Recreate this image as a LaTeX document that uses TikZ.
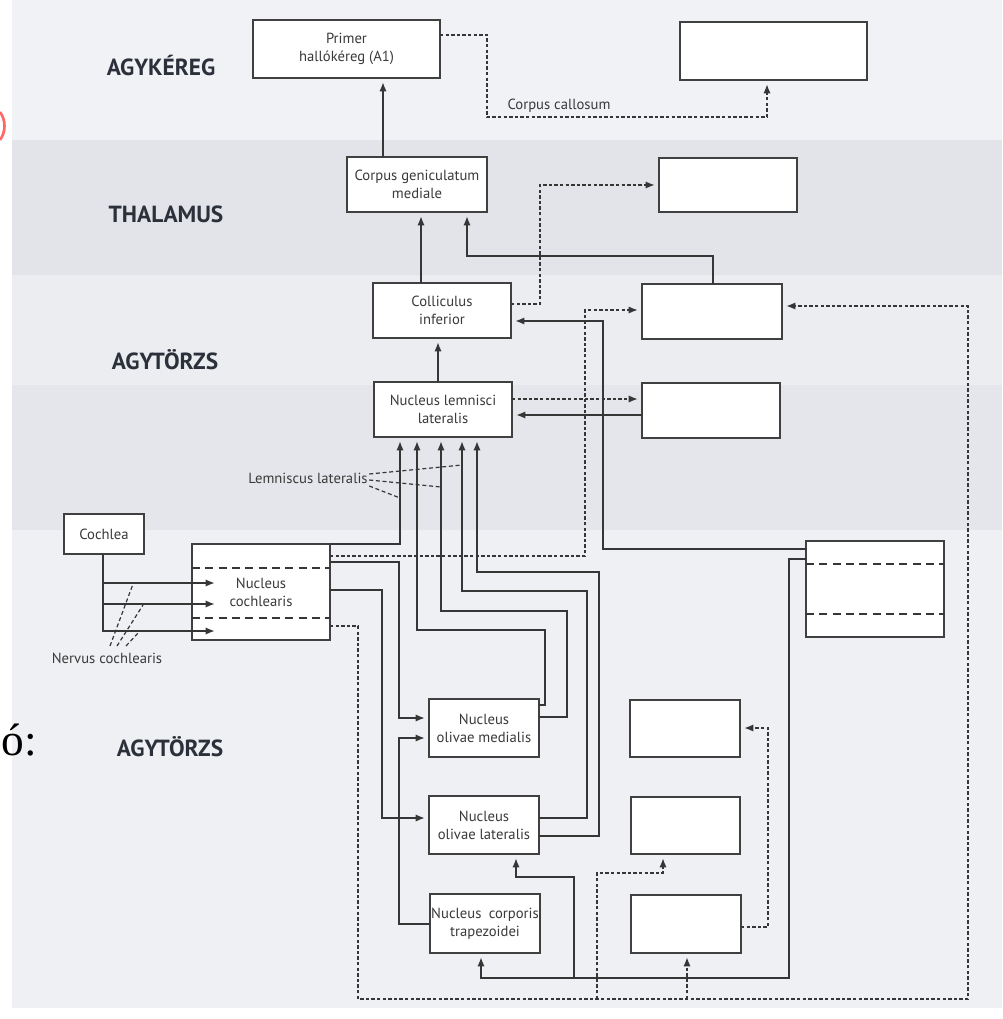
\documentclass[tikz,border=0pt]{standalone}
\usepackage{fontspec}
\setmainfont{PT Sans}
\newfontfamily\serifx{Liberation Serif}
\usetikzlibrary{arrows.meta}
\definecolor{linec}{HTML}{363636}
\definecolor{boxc}{HTML}{404040}
\definecolor{txtc}{HTML}{3A3A3A}
\definecolor{headc}{HTML}{2B303A}
\definecolor{bgA}{HTML}{F1F2F5}
\definecolor{bgB}{HTML}{E2E4EA}
\definecolor{bgC}{HTML}{EBEDF1}
\definecolor{bgD}{HTML}{E4E6EB}
\definecolor{bgE}{HTML}{EEF0F3}
\tikzset{
  bx/.style 2 args={draw=boxc, line width=1.9pt, fill=white, minimum width=#1*0.75pt, minimum height=#2*0.75pt, inner sep=0pt, outer sep=0pt, align=center, font=\fontsize{11}{13.5}\selectfont, text=txtc},
  hd/.style={font=\fontsize{17.5}{20}\selectfont\bfseries, text=headc},
  lab/.style={font=\fontsize{11}{13}\selectfont, text=txtc, inner sep=1pt},
  arr/.style={draw=linec, line width=1.9pt, -{Latex[length=7pt,width=5.5pt]}, shorten >=3pt},
  ln/.style={draw=linec, line width=1.9pt},
  dotarr/.style={draw=linec, line width=1.7pt, dash pattern=on 2.5pt off 1.7pt, -{Latex[length=7pt,width=5.5pt]}, shorten >=3pt},
  dotln/.style={draw=linec, line width=1.7pt, dash pattern=on 2.5pt off 1.7pt},
  idash/.style={draw=linec, line width=1.4pt, dash pattern=on 6pt off 4pt},
  thindash/.style={draw=linec, line width=0.9pt, dash pattern=on 3pt off 2pt}
}
\begin{document}
\begin{tikzpicture}[x=0.75pt,y=-0.75pt]
\useasboundingbox (0,0) rectangle (1002,1019);
% background
\fill[white] (0,0) rectangle (1002,1019);
\fill[bgA] (12,0) rectangle (1002,140);
\fill[bgB] (12,140) rectangle (1002,275);
\fill[bgC] (12,275) rectangle (1002,385);
\fill[bgD] (12,385) rectangle (1002,530);
\fill[bgE] (12,530) rectangle (1002,1008);
\draw[red!60, line width=2pt] (0,112) .. controls (6,120) and (6,132) .. (0,140);

% headings
\node[hd] (h1) at (161,66) {AGYKÉREG};
\node[hd] (h2) at (166,214) {THALAMUS};
\node[hd] (h3) at (165,360) {AGYTÖRZS};
\node[hd] (h4) at (170,747) {AGYTÖRZS};
\node[font=\serifx\fontsize{34}{40}\selectfont, text=black, inner sep=0pt] (oo) at (19,740) {ó:};

% boxes
\node[bx={187}{58}] (prim) at (346.5,49) {Primer\\hallókéreg (A1)};
\node[bx={187}{58}] (tr) at (773.5,51) {};
\node[bx={140}{55}] (cgm) at (417,184.5) {Corpus geniculatum\\mediale};
\node[bx={138}{54}] (thr) at (728,185) {};
\node[bx={138}{55}] (ci) at (442,310.5) {Colliculus\\inferior};
\node[bx={140}{55}] (cir) at (712,311.5) {};
\node[bx={138}{55}] (nll) at (443,409.5) {Nucleus lemnisci\\lateralis};
\node[bx={138}{55}] (nllr) at (711,410.5) {};
\node[bx={80}{40}] (coch) at (104,534) {Cochlea};
\node[bx={138}{96}] (nc) at (261,592) {Nucleus\\cochlearis};
\node[bx={138}{96}] (rb) at (875,589) {};
\node[bx={110}{58}] (som) at (484,728) {Nucleus\\olivae medialis};
\node[bx={110}{57}] (somr) at (685,728.5) {};
\node[bx={110}{58}] (sol) at (484,825) {Nucleus\\olivae lateralis};
\node[bx={109}{57}] (solr) at (685.5,825.5) {};
\node[bx={110}{59}] (tz) at (485,923.5) {Nucleus\enspace corporis\\trapezoidei};
\node[bx={110}{58}] (tzr) at (686,924) {};

% inner dashed lines
\draw[idash] (nc.west |- 0,568) -- (nc.east |- 0,568);
\draw[idash] (nc.west |- 0,618) -- (nc.east |- 0,618);
\draw[idash] (rb.west |- 0,564) -- (rb.east |- 0,564);
\draw[idash] (rb.west |- 0,614) -- (rb.east |- 0,614);

% labels
\node[lab] (cc) at (559,106) {Corpus callosum};
\node[lab] (ll) at (308,478) {Lemniscus lateralis};
\node[lab] (nco) at (107,658) {Nervus cochlearis};

% cortex / thalamus
\draw[arr] (cgm.north -| 383,0) -- (prim.south -| 383,0);
\draw[dotarr] (prim.east |- 0,35) -- (487,35) -- (487,117) -- (767,117) -- (tr.south -| 767,0);
\draw[arr] (ci.north -| 421,0) -- (cgm.south -| 421,0);
\draw[arr] (cir.north -| 713,0) -- (713,256) -- (467,256) -- (cgm.south -| 467,0);
\draw[dotarr] (ci.east |- 0,304) -- (540,304) -- (540,185) -- (thr.west |- 0,185);

% brainstem upper
\draw[arr] (nll.north -| 438,0) -- (ci.south -| 438,0);
\draw[arr] (rb.west |- 0,549) -- (603,549) -- (603,321) -- (ci.east |- 0,321);
\draw[dotarr] (nc.east |- 0,556) -- (585,556) -- (585,310) -- (cir.west |- 0,310);
\draw[dotarr] (nll.east |- 0,399) -- (nllr.west |- 0,399);
\draw[arr] (nllr.west |- 0,415) -- (nll.east |- 0,415);

% big dotted loop
\draw[dotarr] (nc.east |- 0,626) -- (358,626) -- (358,999) -- (968,999) -- (968,306) -- (cir.east |- 0,306);
\draw[dotarr] (687,999) -- (tzr.south -| 687,0);
\draw[dotarr] (597,999) -- (597,873) -- (663,873) -- (solr.south -| 663,0);
\draw[dotarr] (tzr.east |- 0,927) -- (768,927) -- (768,728) -- (somr.east |- 0,728);

% bottom solid
\draw[arr] (rb.west |- 0,559) -- (789,559) -- (789,978) -- (481,978) -- (tz.south -| 481,0);
\draw[arr] (574,978) -- (574,877) -- (516,877) -- (sol.south -| 516,0);

% lemniscus lines
\draw[arr] (nc.north east) -- (400,544) -- (nll.south -| 400,0);
\draw[arr] (som.east |- 0,705) -- (545,705) -- (545,630) -- (417,630) -- (nll.south -| 417,0);
\draw[arr] (som.east |- 0,717) -- (567,717) -- (567,611) -- (441,611) -- (nll.south -| 441,0);
\draw[arr] (sol.east |- 0,818) -- (587,818) -- (587,591) -- (462,591) -- (nll.south -| 462,0);
\draw[arr] (sol.east |- 0,836) -- (599,836) -- (599,572) -- (477,572) -- (nll.south -| 477,0);

% cochlearis to olives
\draw[arr] (nc.east |- 0,562) -- (399,562) -- (399,718) -- (som.west |- 0,718);
\draw[arr] (nc.east |- 0,590) -- (382,590) -- (382,818) -- (sol.west |- 0,818);
\draw[arr] (tz.west |- 0,924) -- (399,924) -- (399,738) -- (som.west |- 0,738);

% cochlea to nucleus cochlearis
\coordinate (n1) at (219,583);
\coordinate (n2) at (219,604);
\coordinate (n3) at (219,631);
\draw[arr] (coch.south -| 103,0) |- (n3);
\draw[arr] (103,583) -- (n1);
\draw[arr] (103,604) -- (n2);

% label pointer dashes
\draw[thindash] (ll.east |- 0,474) -- (462,465);
\draw[thindash] (ll.east |- 0,480) -- (441,487);
\draw[thindash] (ll.east |- 0,486) -- (400,498);
\draw[thindash] (110,646) -- (133,584);
\draw[thindash] (117,646) -- (143,605);
\draw[thindash] (126,646) -- (139,632);
\end{tikzpicture}
\end{document}
